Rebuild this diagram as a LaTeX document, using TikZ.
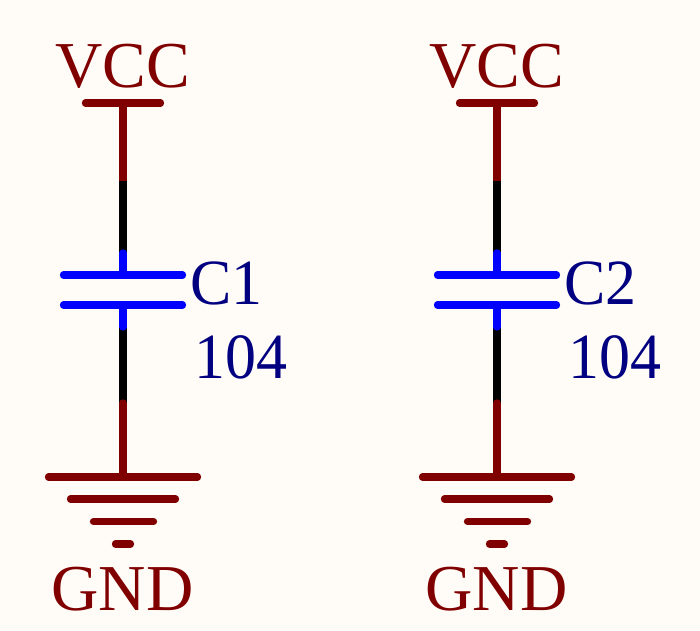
\documentclass[tikz,border=0pt]{standalone}
\usepackage{fontspec}
\setmainfont{Liberation Serif}
\newfontfamily\partfont[FakeStretch=0.96]{Liberation Serif}
\definecolor{netred}{HTML}{800000}
\definecolor{pinblue}{HTML}{0000FF}
\definecolor{labelblue}{HTML}{000080}
\definecolor{paper}{HTML}{FFFCF8}
\tikzset{
  wirepart/.style={line width=7.3pt,line cap=round},
  blackwire/.style={line width=7.3pt,line cap=butt,black},
  powerpart/.style={wirepart,netred},
  platepart/.style={wirepart,pinblue},
  powertext/.style={inner sep=0pt,anchor=base,text=netred,font=\fontsize{65.5}{66}\selectfont},
  parttext/.style={inner sep=0pt,anchor=base west,text=labelblue,font=\partfont\fontsize{64.5}{65}\selectfont},
}
\begin{document}
\begin{tikzpicture}[x=1pt,y=-1pt]
\fill[paper] (0,0) rectangle (700,630);
\useasboundingbox (0,0) rectangle (700,630);
\foreach \i/\cx in {1/123,2/497}{
  \begin{scope}[shift={(\cx,0)}]
    \node[powertext] (vcc\i) at (-0.5,87.3) {VCC};
    \node[powertext] (gnd\i) at (-0.5,610) {GND};
    \node[parttext] (ref\i) at (67,304) {C\i};
    \node[parttext] (val\i) at (71,378.5) {104};
    % power symbol
    \coordinate (vl\i) at (-37.5,103); \coordinate (vr\i) at (37.5,103);
    \coordinate (vt\i) at (0,103);
    \coordinate (a\i) at (0,181); \coordinate (b\i) at (0,253);
    \coordinate (p1\i) at (0,275); \coordinate (p2\i) at (0,305);
    \coordinate (c\i) at (0,327); \coordinate (d\i) at (0,403);
    \coordinate (gt\i) at (0,477);
    % black wires
    \draw[blackwire] (a\i) -- (b\i);
    \draw[blackwire] (c\i) -- (d\i);
    % power pins and bars
    \draw[powerpart,line cap=butt] (vt\i) -- (a\i);
    \draw[powerpart] (vl\i) -- (vr\i);
    \draw[powerpart] (d\i) -- (gt\i);
    \draw[powerpart] (-74.5,477) -- (74.5,477);
    \draw[powerpart] (-52.5,499) -- (52.5,499);
    \draw[powerpart] (-29.5,521.5) -- (30.5,521.5);
    \draw[powerpart] (-7.5,544) -- (7.5,544);
    % capacitor
    \draw[platepart] (b\i) -- (p1\i);
    \draw[platepart] (p2\i) -- (c\i);
    \draw[platepart] (-59.5,275) -- (59.5,275);
    \draw[platepart] (-59.5,305) -- (59.5,305);
  \end{scope}
}
\end{tikzpicture}
\end{document}
